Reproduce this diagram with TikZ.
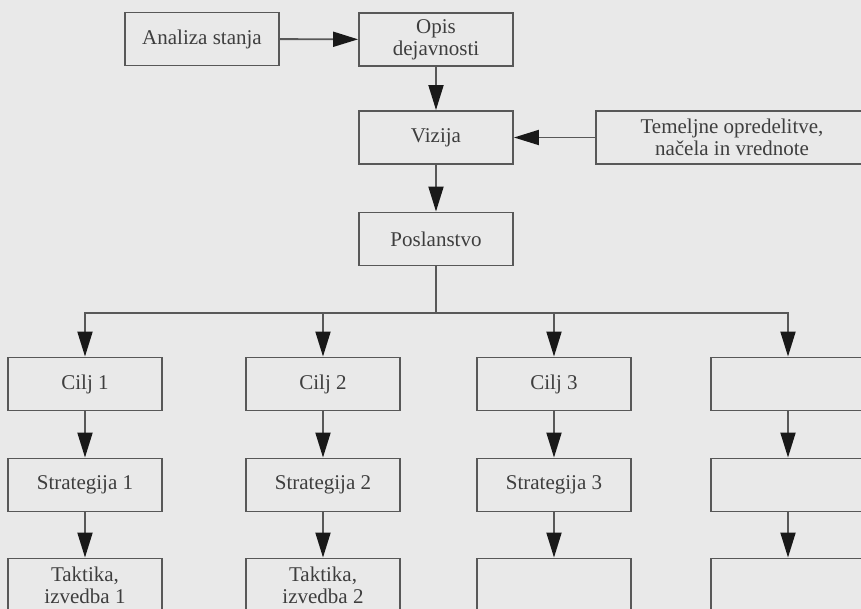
\documentclass[tikz,border=0pt]{standalone}
\usepackage{fontspec}
\setmainfont{Liberation Serif}
\usetikzlibrary{arrows.meta,positioning}
\definecolor{paper}{RGB}{233,233,233}
\definecolor{ink}{RGB}{88,88,88}
\definecolor{druk}{RGB}{62,62,62}

\begin{document}
\begin{tikzpicture}[x=1pt,y=-1pt,
    box/.style={draw=ink, line width=1.9pt, fill=paper, text=druk, align=center,
        minimum width=154pt, minimum height=53pt, inner sep=0pt,
        font=\fontsize{21}{22}\selectfont},
    pil/.style={draw=ink, line width=1.9pt, -{Triangle[length=25pt,width=15pt,color=black!90]}}]
        % page
        \useasboundingbox[fill=paper](0,0)rectangle(861,609);
        \clip(0,0)rectangle(861,609);
        % top part
        \node[box](analiza)at(202,39){Analiza stanja};
        \node[box](opis)at(436,39.5){Opis\\dejavnosti};
        \node[box](vizija)at(436,137.5){Vizija};
        \node[box, minimum width=272pt](temelj)at(732,137.5){Temeljne opredelitve,\\načela in vrednote};
        \node[box](posl)at(436,239){Poslanstvo};
        \coordinate(bus)at(436,313);
        \path[pil](analiza)to(opis);
        \path[pil](opis)to(vizija);
        \path[pil](temelj)to(vizija);
        \path[pil](vizija)to(posl);
        \path[draw=ink, line width=1.9pt](posl)to(bus);
        % columns
        \foreach \i/\x/\c/\s/\t in {1/85/{Cilj 1}/{Strategija 1}/{Taktika,\\izvedba 1},
                                    2/323/{Cilj 2}/{Strategija 2}/{Taktika,\\izvedba 2},
                                    3/554/{Cilj 3}/{Strategija 3}/{},
                                    4/788/{}/{}/{}}
        {
            \node[box](cilj\i)at(\x,384){\c};
            \node[box](strat\i)at(\x,485){\s};
            \node[box](takt\i)at(\x,585){\t};
            \path[pil](bus)-|(cilj\i.north);
            \path[pil](cilj\i)to(strat\i);
            \path[pil](strat\i)to(takt\i);
        }
    \end{tikzpicture}
\end{document}
